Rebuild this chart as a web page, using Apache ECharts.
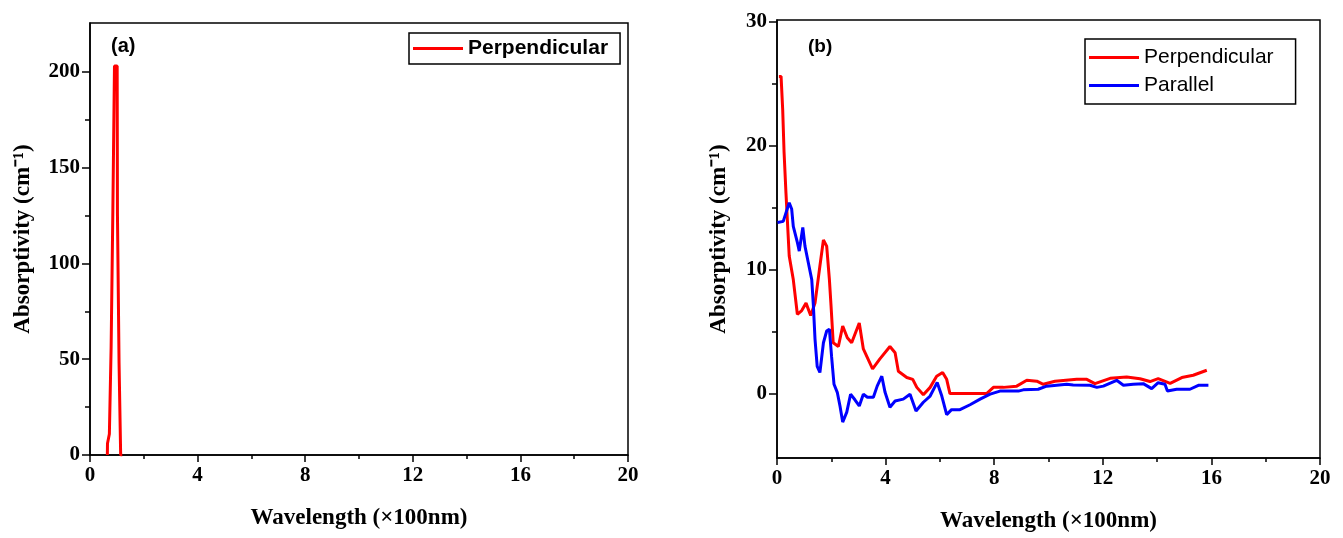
<!DOCTYPE html>
<html>
<head>
<meta charset="utf-8">
<title>Absorptivity</title>
<script src="https://cdn.jsdelivr.net/npm/echarts@6/dist/echarts.min.js"></script>
<style>
  html, body { margin: 0; padding: 0; background: #fff; }
  #main { width: 1343px; height: 538px; }
</style>
</head>
<body>
<div id="main"></div>
<script>
// (a) perpendicular, narrow peak near 100 nm
const aWave = [0.645, 0.65, 0.72, 0.775, 0.785, 0.84, 0.85, 0.9, 0.91, 1.01, 1.02, 1.07, 1.08, 1.13, 1.14, 1.2]
const aPerp = [0, 6, 11, 12, 56, 57, 128, 129, 203, 203, 126, 125, 48, 48, 0, 0]

// (b) perpendicular
const bWavePerp = [0.07, 0.15, 0.21, 0.26, 0.33, 0.45, 0.6, 0.75, 0.91, 1.07, 1.24, 1.4, 1.58, 1.71, 1.83, 1.93, 1.99, 2.07,
    2.26, 2.42, 2.59, 2.75, 3.03, 3.18, 3.52, 3.79, 4.16, 4.35, 4.47, 4.78, 5.0, 5.15, 5.39, 5.64, 5.88, 6.1, 6.25, 6.37,
    7.72, 7.97, 8.34, 8.83, 9.2, 9.57, 9.81, 10.24, 11.04, 11.41, 11.71, 12.27, 12.88, 13.37, 13.74, 14.04, 14.48,
    14.91, 15.33, 15.83]
const bPerp = [25.6, 25.6, 22.9, 19.5, 16.2, 11.1, 9.2, 6.4, 6.7, 7.3, 6.3, 7.3, 10.3, 12.4, 11.9, 9.2, 7.1, 4.1,
    3.8, 5.45, 4.5, 4.1, 5.7, 3.6, 2.0, 2.8, 3.8, 3.3, 1.8, 1.3, 1.15, 0.5, -0.1, 0.5, 1.4, 1.7, 1.15, 0,
    0, 0.5, 0.5, 0.6, 1.07, 1.0, 0.75, 1.0, 1.15, 1.15, 0.8, 1.23, 1.34, 1.2, 0.97, 1.2, 0.83,
    1.29, 1.48, 1.88]

// (b) parallel
const bWavePara = [0.02, 0.23, 0.45, 0.54, 0.6, 0.75, 0.82, 0.95, 1.03, 1.15, 1.28, 1.34, 1.4, 1.48, 1.58, 1.71, 1.83, 1.93,
    2.01, 2.1, 2.22, 2.32, 2.42, 2.57, 2.71, 2.87, 3.03, 3.18, 3.33, 3.55, 3.69, 3.86, 3.98, 4.16, 4.35, 4.65, 4.9,
    5.12, 5.39, 5.64, 5.9, 6.07, 6.25, 6.43, 6.74, 7.11, 7.48, 7.85, 8.21, 8.89, 9.07, 9.62, 9.93, 10.67, 10.91,
    11.53, 11.78, 12.02, 12.51, 12.76, 13.12, 13.49, 13.8, 14.04, 14.29, 14.38, 14.72, 15.21, 15.52, 15.89]
const bPara = [13.8, 13.9, 15.4, 14.9, 13.5, 12.2, 11.5, 13.4, 11.9, 10.6, 9.2, 7.1, 4.4, 2.2, 1.7, 4.1, 5.05, 5.2,
    3.0, 0.75, 0.1, -1.0, -2.3, -1.5, -0.05, -0.5, -1.0, -0.05, -0.3, -0.3, 0.6, 1.4, 0.1, -1.1, -0.6, -0.45, -0.05,
    -1.4, -0.7, -0.2, 0.9, -0.2, -1.7, -1.3, -1.3, -0.9, -0.45, -0.05, 0.2, 0.2, 0.3, 0.35, 0.6, 0.75, 0.7,
    0.67, 0.5, 0.6, 1.07, 0.67, 0.75, 0.8, 0.4, 0.88, 0.75, 0.2, 0.35, 0.35, 0.67, 0.67]

const xTicks = [0, 4, 8, 12, 16, 20]
const aYLabels = [0, 50, 100, 150, 200]
const aYMinor = [25, 75, 125, 175]
const bYLabels = [0, 10, 20, 30]
const bYMinor = [5, 15, 25]

const serif = 'Liberation Serif'
const sans = 'Liberation Sans'
const black = '#000'

const pairs = (xs, ys) => xs.map((x, i) => [x, ys[i]])

function xAxisOf(gridIndex, nameGap) {
    return {
        gridIndex: gridIndex,
        type: 'value',
        min: xTicks[0],
        max: xTicks[xTicks.length - 1],
        interval: 4,
        name: 'Wavelength (×100nm)',
        nameLocation: 'middle',
        nameGap: nameGap,
        nameTextStyle: { color: black, fontFamily: serif, fontWeight: 'bold', fontSize: 23 },
        axisLine: { onZero: false, lineStyle: { color: black, width: 1.5 } },
        axisTick: { length: 7, lineStyle: { color: black, width: 1.5 } },
        minorTick: { show: true, splitNumber: 2, length: 4, lineStyle: { color: black, width: 1.5 } },
        splitLine: { show: false },
        axisLabel: { color: black, fontFamily: serif, fontWeight: 'bold', fontSize: 21, margin: 10 },
    }
}

function yAxisOf(gridIndex, min, max, labels, nameGap) {
    return {
        gridIndex: gridIndex,
        type: 'value',
        min: min,
        max: max,
        position: 'left',
        name: 'Absorptivity (cm⁻¹)',
        nameLocation: 'middle',
        nameGap: nameGap,
        nameTextStyle: { color: black, fontFamily: serif, fontWeight: 'bold', fontSize: 23 },
        axisLine: { onZero: false, lineStyle: { color: black, width: 1.5 } },
        axisTick: { customValues: labels, length: 8, lineStyle: { color: black, width: 1.5 } },
        splitLine: { show: false },
        axisLabel: { customValues: labels, color: black, fontFamily: serif, fontWeight: 'bold', fontSize: 21, margin: 10 },
    }
}

// second y axis on the same spot, only for the short minor ticks
function yMinorOf(gridIndex, min, max, ticks) {
    return {
        gridIndex: gridIndex,
        type: 'value',
        min: min,
        max: max,
        position: 'left',
        axisLine: { show: false },
        axisLabel: { show: false },
        axisTick: { customValues: ticks, length: 5, lineStyle: { color: black, width: 1.5 } },
        splitLine: { show: false },
    }
}

const chart = echarts.init(document.getElementById('main'))
chart.setOption({
    animation: false,
    backgroundColor: '#fff',
    title: [
        { text: '(a)', left: 106, top: 31, textStyle: { color: black, fontFamily: sans, fontWeight: 'bold', fontSize: 20 } },
        { text: '(b)', left: 803, top: 32, textStyle: { color: black, fontFamily: sans, fontWeight: 'bold', fontSize: 19 } },
    ],
    grid: [
        { left: 90, top: 23, width: 538, height: 432, show: true, borderColor: black, borderWidth: 1.5 },
        { left: 777, top: 20, width: 543, height: 439, show: true, borderColor: black, borderWidth: 1.5 },
    ],
    legend: [
        {
            data: ['Perpendicular'],
            left: 409, top: 33,
            orient: 'vertical',
            icon: 'rect', itemWidth: 50, itemHeight: 3,
            padding: [5, 12, 5, 4],
            borderColor: black, borderWidth: 1.5,
            textStyle: { color: black, fontFamily: sans, fontWeight: 'bold', fontSize: 21 },
        },
        {
            data: [{ name: 'Perpendicular', itemStyle: { color: '#ff0000' } }, { name: 'Parallel' }],
            left: 1085, top: 39,
            orient: 'vertical',
            icon: 'rect', itemWidth: 50, itemHeight: 3, itemGap: 7,
            padding: [8, 22, 8, 4],
            borderColor: black, borderWidth: 1.5,
            textStyle: { color: black, fontFamily: sans, fontSize: 21 },
        },
    ],
    xAxis: [xAxisOf(0, 52), xAxisOf(1, 52)],
    yAxis: [
        yAxisOf(0, 0, 225.5, aYLabels, 55),
        yAxisOf(1, -5.2, 30.15, bYLabels, 46),
        yMinorOf(0, 0, 225.5, aYMinor),
        yMinorOf(1, -5.2, 30.15, bYMinor),
    ],
    series: [
        {
            name: 'Perpendicular', type: 'line', xAxisIndex: 0, yAxisIndex: 0,
            symbol: 'none', color: '#ff0000',
            lineStyle: { color: '#ff0000', width: 3 },
            data: pairs(aWave, aPerp),
        },
        {
            name: 'Perpendicular', type: 'line', xAxisIndex: 1, yAxisIndex: 1,
            symbol: 'none', color: '#ff0000',
            lineStyle: { color: '#ff0000', width: 3 },
            data: pairs(bWavePerp, bPerp),
        },
        {
            name: 'Parallel', type: 'line', xAxisIndex: 1, yAxisIndex: 1,
            symbol: 'none', color: '#0000ff',
            lineStyle: { color: '#0000ff', width: 3 },
            data: pairs(bWavePara, bPara),
        },
    ],
})
window.addEventListener('resize', chart.resize)
</script>
</body>
</html>
